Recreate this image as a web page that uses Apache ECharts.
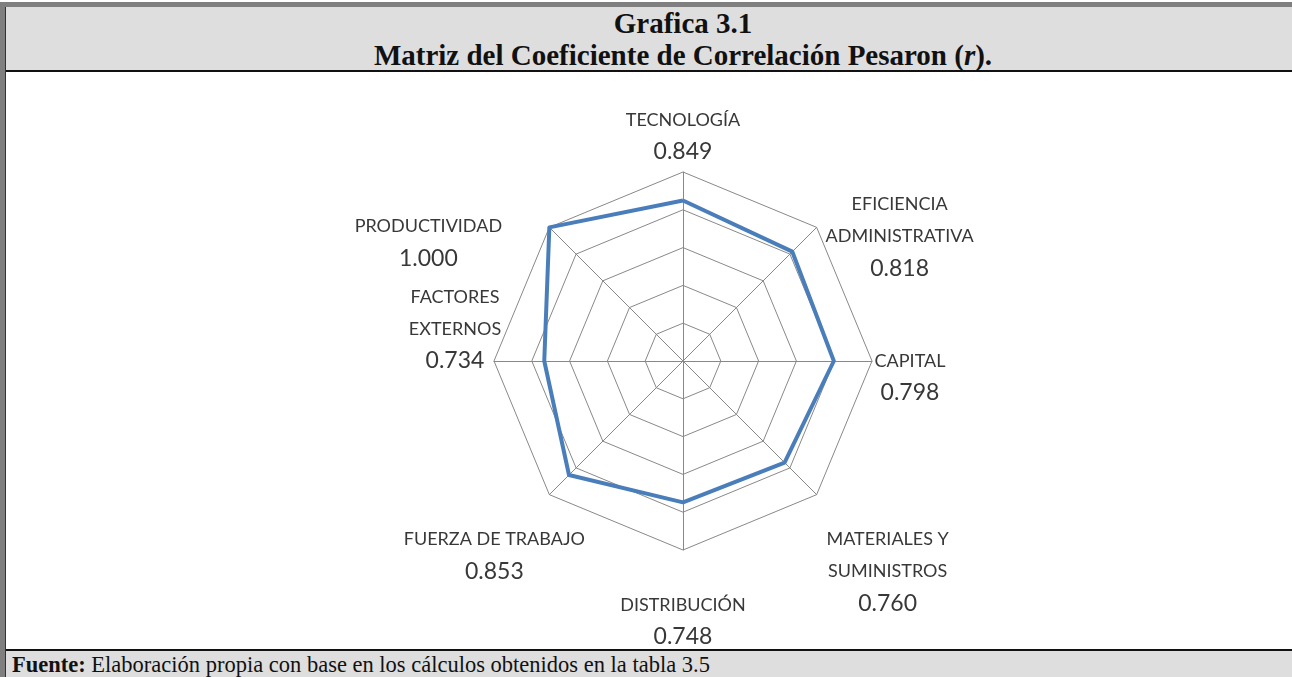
<!DOCTYPE html>
<html>
<head>
<meta charset="utf-8">
<script src="https://cdn.jsdelivr.net/npm/echarts@6/dist/echarts.min.js"></script>
<style>
  html, body { margin: 0; padding: 0; width: 100%; height: 100%; overflow: hidden; background: #fff; }
  ::-webkit-scrollbar { display: none; }
  .frame { position: absolute; left: 0; top: 0; right: 0; bottom: 0; overflow: hidden; }
  .topband { position: absolute; left: 0; top: 2px; width: 1400px; height: 5px; background: #7f7f7f; }
  .leftband { position: absolute; left: 0; top: 2px; width: 5px; height: 675px; background: #7f7f7f; z-index: 3; }
  .leftline { position: absolute; left: 5px; top: 7px; width: 1px; height: 670px; background: #333; z-index: 3; }
  .header { position: absolute; left: 6px; top: 7px; width: 1354px; height: 63px; background: #dedede;
            font-family: "Liberation Serif", "DejaVu Serif", serif; font-weight: bold; font-size: 29px;
            text-align: center; line-height: 32px; color: #111; }
  .hline { position: absolute; left: 6px; width: 1400px; height: 2px; background: #111; z-index: 2; }
  .footer { position: absolute; left: 6px; top: 651px; width: 1400px; height: 26px; background: #dedede;
            font-family: "Liberation Serif", serif; font-size: 22.5px; line-height: 28px; color: #111;
            padding-left: 6px; box-sizing: border-box; z-index: 2; }
  #chart { position: absolute; left: 6px; top: 72px; width: 1286px; height: 579px; }
</style>
</head>
<body>
<div class="frame">
  <div class="topband"></div>
  <div class="leftband"></div>
  <div class="leftline"></div>
  <div class="header">
    <div>Grafica 3.1</div>
    <div>Matriz del Coeficiente de Correlación Pesaron (<i>r</i>).</div>
  </div>
  <div class="hline" style="top:70px"></div>
  <div id="chart"></div>
  <div class="hline" style="top:649px"></div>
  <div class="footer"><b>Fuente:</b> Elaboración propia con base en los cálculos obtenidos en la tabla 3.5</div>
</div>
<script>
// clockwise from the top, as in the original
const indicatorNames = ['TECNOLOGÍA', 'EFICIENCIA\nADMINISTRATIVA', 'CAPITAL', 'MATERIALES Y\nSUMINISTROS',
    'DISTRIBUCIÓN', 'FUERZA DE TRABAJO', 'FACTORES\nEXTERNOS', 'PRODUCTIVIDAD'];
const correlationValues = [0.849, 0.818, 0.798, 0.760, 0.748, 0.853, 0.734, 1.000];
const valueLabels = ['0.849', '0.818', '0.798', '0.760', '0.748', '0.853', '0.734', '1.000'];
const radarMax = 1;
const ringCount = 5;

// where each name block sits, relative to its outer vertex
const labelOffsets = [[0, -36], [83, 9], [38, 16], [71, 77], [0, 71], [-55, 61], [-39, -32], [-121, 15]];

const chart = echarts.init(document.getElementById('chart'));
const n = indicatorNames.length;
// echarts lays indicators out counter-clockwise, so flip the order after the first
const ecIndex = i => (n - i) % n;
const indicators = [];
const values = [];
indicatorNames.forEach((name, i) => {
    indicators[ecIndex(i)] = { name: name, min: 0, max: radarMax };
    values[ecIndex(i)] = correlationValues[i];
});

const gridColor = '#888888';
const center = [677, 289];
const radius = 189;

chart.setOption({
    animation: false,
    radar: {
        center: center,
        radius: radius,
        startAngle: 90,
        splitNumber: ringCount,
        shape: 'polygon',
        indicator: indicators,
        axisName: { show: false },
        axisLine: { lineStyle: { color: gridColor, width: 1 } },
        splitLine: { lineStyle: { color: gridColor, width: 1 } },
        splitArea: { show: false },
        axisTick: { show: false },
        axisLabel: { show: false }
    },
    series: [{
        type: 'radar',
        symbol: 'none',
        lineStyle: { color: '#4a7ebb', width: 4 },
        data: [{ value: values, name: 'r' }]
    }]
});

// names and values placed around the outer vertices
let coordSys = null;
try {
    coordSys = chart.getModel().getComponent('radar').coordinateSystem;
} catch (e) { coordSys = null; }

const graphics = indicatorNames.map((name, i) => {
    const j = ecIndex(i);
    let p;
    if (coordSys && coordSys.dataToPoint) {
        p = coordSys.dataToPoint(radarMax, j);
    } else {
        const a = (90 + j * 360 / n) * Math.PI / 180;
        p = [center[0] + radius * Math.cos(a), center[1] - radius * Math.sin(a)];
    }
    const lines = name.split('\n').map(s => '{n|' + s + '}');
    lines.push('{v|' + valueLabels[i] + '}');
    return {
        type: 'text',
        x: p[0] + labelOffsets[i][0],
        y: p[1] + labelOffsets[i][1],
        silent: true,
        style: {
            text: lines.join('\n'),
            align: 'center',
            verticalAlign: 'middle',
            rich: {
                n: { fontFamily: 'Lato', fontSize: 18, lineHeight: 32, fill: '#383838', align: 'center' },
                v: { fontFamily: 'Lato', fontSize: 23, lineHeight: 32, fill: '#383838', align: 'center' }
            }
        }
    };
});
chart.setOption({ graphic: graphics });
</script>
</body>
</html>
